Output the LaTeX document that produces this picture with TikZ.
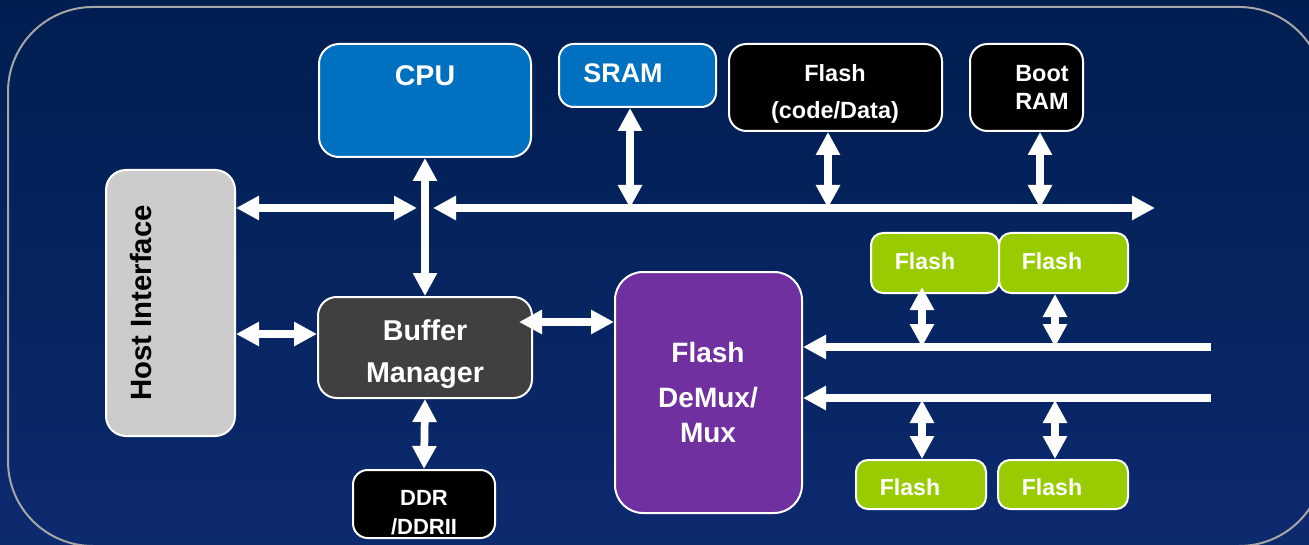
\documentclass[tikz,border=0pt]{standalone}
\usepackage{fontspec}
\setmainfont{Liberation Sans}
\usetikzlibrary{arrows.meta,fit,calc}
\definecolor{bgtop}{HTML}{001E50}
\definecolor{bgbot}{HTML}{0C2A6E}
\definecolor{cpublue}{HTML}{0070C0}
\definecolor{hostgray}{HTML}{CCCCCC}
\definecolor{bufgray}{HTML}{404040}
\definecolor{mpurple}{HTML}{7030A0}
\definecolor{fgreen}{HTML}{99CC00}
\definecolor{framegray}{HTML}{A6A6A6}
\begin{document}
\begin{tikzpicture}[x=0.75pt,y=-0.75pt,
  blk/.style={rectangle, draw=white, line width=1.5pt, rounded corners=#1, inner sep=0pt},
  blk/.default=13pt,
  lbl/.style={text=white, anchor=base, inner sep=0pt},
  tipA/.tip={Triangle[width=17.25pt,length=17.25pt]},
  dbl/.style={draw=white, line width=5.8pt, tipA-tipA},
  sgl/.style={draw=white, line width=5.8pt, -tipA},
]
\useasboundingbox (0,0) rectangle (1309,545);
\clip (0,0) rectangle (1309,545);
\shade[top color=bgtop, bottom color=bgbot] (0,0) rectangle (1309,545);
\draw[framegray, line width=1.5pt, rounded corners=63.75pt] (8,7) rectangle (1324,546);

% boxes
\node[blk=15pt, fill=hostgray, fit={(106,170)(235,436)}] (host) {};
\node[blk=15pt, fill=cpublue, fit={(319,44)(531,157)}] (cpu) {};
\node[blk=11pt, fill=cpublue, fit={(559,44)(716,107)}] (sram) {};
\node[blk=13pt, fill=black, fit={(729,44)(942,131)}] (flc) {};
\node[blk=13pt, fill=black, fit={(970,44)(1083,131)}] (boot) {};
\node[blk=14pt, fill=bufgray, fit={(318,297)(532,398)}] (buf) {};
\node[blk=21pt, fill=mpurple, fit={(615,272)(802,513)}] (demux) {};
\node[blk=11pt, fill=black, fit={(353,470)(495,538)}] (ddr) {};
\node[blk=9pt, fill=fgreen, fit={(871,233)(999,293)}] (g1) {};
\node[blk=9pt, fill=fgreen, fit={(999,233)(1128,293)}] (g2) {};
\node[blk=9pt, fill=fgreen, fit={(856,460)(986,509)}] (g3) {};
\node[blk=9pt, fill=fgreen, fit={(998,460)(1128,509)}] (g4) {};

% coordinates
\coordinate (busA) at (417,208);
\coordinate (busB) at (433,208);
\coordinate (busE) at (1155,208);
\coordinate (bs) at (630,208);
\coordinate (bf) at (828,208);
\coordinate (bb) at (1040,208);
\coordinate (hb) at (0,334);
\coordinate (bd) at (0,322);
\coordinate (r1) at (1211,347);
\coordinate (r2) at (1211,398);
\coordinate (v1) at (922,347);
\coordinate (v2) at (1055,347);
\coordinate (v3) at (922,400);
\coordinate (v4) at (1055,400);

% connectors
\draw[dbl] (host.east |- busA) -- (busA);
\draw[dbl] (busB) -- (busE);
\draw[dbl] (cpu.south) -- (buf.north);
\draw[dbl] (sram.south -| bs) -- (bs);
\draw[dbl] (flc.south -| bf) -- (bf);
\draw[dbl] (boot.south -| bb) -- (bb);
\draw[dbl] (host.east |- hb) -- (buf.west |- hb);
\draw[dbl] ($(buf.east |- bd)+(-14,0)$) -- (demux.west |- bd);
\draw[dbl] (buf.south) -- (ddr.north);
\draw[sgl] (r1) -- (demux.east |- r1);
\draw[sgl] (r2) -- (demux.east |- r2);
\draw[dbl] ($(g1.south -| v1)+(0,-7)$) -- (v1);
\draw[dbl] (g2.south -| v2) -- (v2);
\draw[dbl] (v3) -- (g3.north -| v3);
\draw[dbl] (v4) -- (g4.north -| v4);

% labels
\node[lbl, font=\fontsize{21.4}{26}\selectfont\bfseries] (tcpu) at (425,86) {CPU};
\node[lbl, font=\fontsize{20.2}{24}\selectfont\bfseries] (tsram) at (623,82.7) {SRAM};
\node[lbl, font=\fontsize{17.6}{21}\selectfont\bfseries] (tflc1) at (835,81.4) {Flash};
\node[lbl, font=\fontsize{17.6}{21}\selectfont\bfseries] (tflc2) at (835,118.4) {(code/Data)};
\node[lbl, font=\fontsize{17.6}{21}\selectfont\bfseries] (tboot1) at (1042,81.4) {Boot};
\node[lbl, font=\fontsize{17.6}{21}\selectfont\bfseries] (tboot2) at (1042,109.4) {RAM};
\node[lbl, text=black, rotate=90, font=\fontsize{22}{26}\selectfont\bfseries] (thost) at (151.6,303) {Host Interface};
\node[lbl, font=\fontsize{21.5}{26}\selectfont\bfseries] (tbuf1) at (425,340.3) {Buffer};
\node[lbl, font=\fontsize{21.5}{26}\selectfont\bfseries] (tbuf2) at (425,382.3) {Manager};
\node[lbl, font=\fontsize{21}{25}\selectfont\bfseries] (tdm1) at (708,362) {Flash};
\node[lbl, font=\fontsize{21}{25}\selectfont\bfseries] (tdm2) at (708,407) {DeMux/};
\node[lbl, font=\fontsize{21}{25}\selectfont\bfseries] (tdm3) at (708,442) {Mux};
\node[lbl, font=\fontsize{16.5}{20}\selectfont\bfseries] (tddr1) at (424,505.9) {DDR};
\node[lbl, font=\fontsize{16.5}{20}\selectfont\bfseries] (tddr2) at (424,534.9) {/DDRII};
\node[lbl, font=\fontsize{17.3}{21}\selectfont\bfseries] (tg1) at (925,269.2) {Flash};
\node[lbl, font=\fontsize{17.3}{21}\selectfont\bfseries] (tg2) at (1052,269.2) {Flash};
\node[lbl, font=\fontsize{17.3}{21}\selectfont\bfseries] (tg3) at (910,495.2) {Flash};
\node[lbl, font=\fontsize{17.3}{21}\selectfont\bfseries] (tg4) at (1052,495.2) {Flash};
\end{tikzpicture}
\end{document}
